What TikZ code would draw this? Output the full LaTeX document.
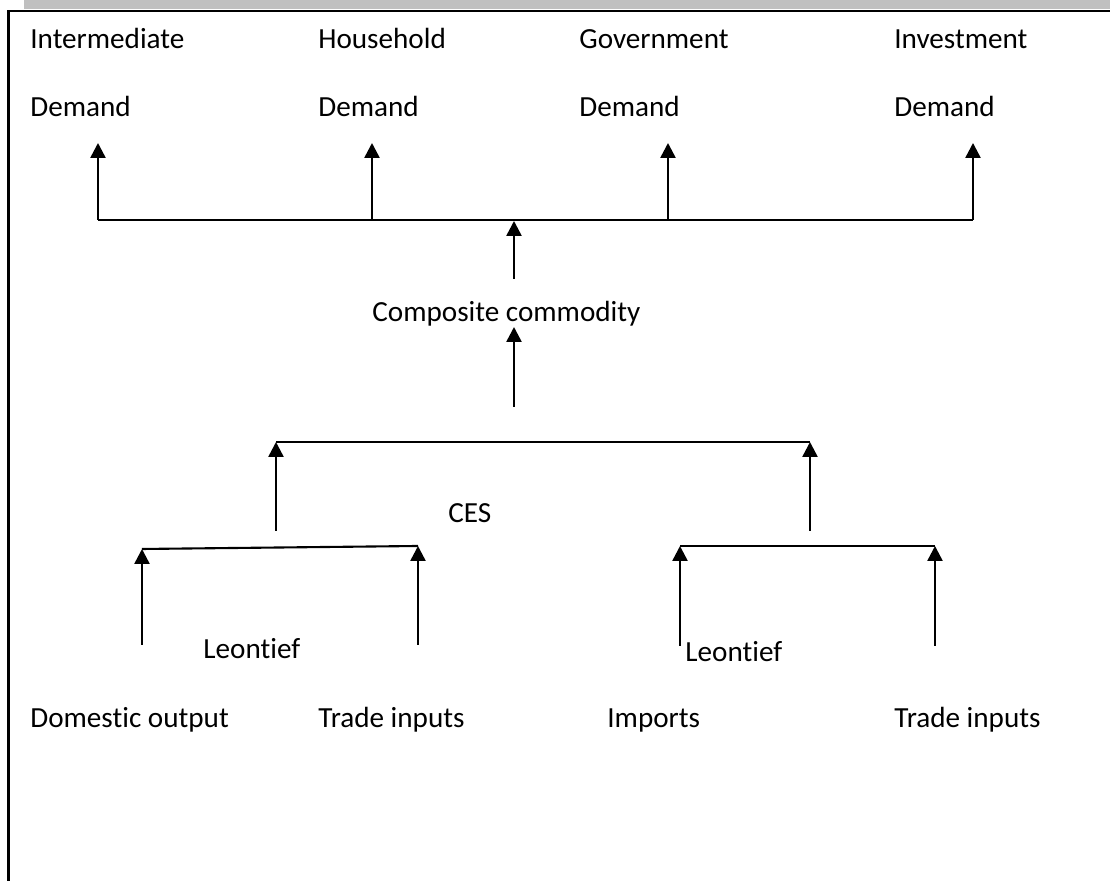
\documentclass[tikz,border=0pt]{standalone}
\usepackage{fontspec}
\setmainfont{Carlito}[Ligatures=CommonOff]
\usepackage{tikz}
\usetikzlibrary{arrows.meta}
\definecolor{framegray}{RGB}{192, 192, 192}
\tikzset{
    lbl/.style  = {anchor=base west, inner sep=0pt, font=\fontsize{16.6}{20}\selectfont},
    flow/.style = {-{Triangle[length=0.30cm, width=0.30cm]}, line width=1.4pt},
    bar/.style  = {line width=1.2pt}
}
\begin{document}
\begin{tikzpicture}
            % Frame to ensure alignment:
            \useasboundingbox                                                 ( 0.00, 0.00) rectangle (22.20,17.62);
            \fill[framegray]                                                  ( 0.48,17.44) rectangle (22.20,17.62);
            \draw[line width=1.2pt]                                           (22.20,17.40) -- ( 0.17,17.40) -- ( 0.17, 0.00);
            % Final demand
            \node[lbl] (intT) at ( 0.60,16.64) {Intermediate};
            \node[lbl] (intB) at ( 0.60,15.28) {Demand};
            \node[lbl] (hhT)  at ( 6.36,16.64) {Household};
            \node[lbl] (hhB)  at ( 6.36,15.28) {Demand};
            \node[lbl] (govT) at (11.58,16.64) {Government};
            \node[lbl] (govB) at (11.58,15.28) {Demand};
            \node[lbl] (invT) at (17.88,16.64) {Investment};
            \node[lbl] (invB) at (17.88,15.28) {Demand};
            % Composite level
            \node[lbl] (comp) at ( 7.44,11.18) {Composite commodity};
            \node[lbl] (ces)  at ( 8.96, 7.16) {CES};
            \node[lbl] (leoL) at ( 4.06, 4.44) {Leontief};
            \node[lbl] (leoR) at (13.70, 4.38) {Leontief};
            % Sources
            \node[lbl] (dom)  at ( 0.60, 3.06) {Domestic output};
            \node[lbl] (trdL) at ( 6.36, 3.06) {Trade inputs};
            \node[lbl] (imp)  at (12.14, 3.06) {Imports};
            \node[lbl] (trdR) at (17.88, 3.06) {Trade inputs};
            % Junctions & tips
            \coordinate (jInt) at ( 1.96,13.22);  \coordinate (tInt) at ( 1.96,14.76);
            \coordinate (jHh)  at ( 7.44,13.22);  \coordinate (tHh)  at ( 7.44,14.76);
            \coordinate (jGov) at (13.36,13.22);  \coordinate (tGov) at (13.36,14.76);
            \coordinate (jInv) at (19.46,13.22);  \coordinate (tInv) at (19.46,14.76);
            \coordinate (cUp)  at (10.28,13.20);  \coordinate (cLo)  at (10.28,12.04);
            \coordinate (aUp)  at (10.28,11.08);  \coordinate (aLo)  at (10.28, 9.48);
            \coordinate (cesL) at ( 5.52, 8.78);  \coordinate (cesR) at (16.20, 8.78);
            \coordinate (bL1)  at ( 2.84, 6.64);  \coordinate (bL2)  at ( 8.36, 6.70);
            \coordinate (bR1)  at (13.60, 6.70);  \coordinate (bR2)  at (18.70, 6.70);
            % Demand split
            \draw[bar]  (jInt) -- (jInv);
            \draw[flow] (jInt) -- (tInt);
            \draw[flow] (jHh)  -- (tHh);
            \draw[flow] (jGov) -- (tGov);
            \draw[flow] (jInv) -- (tInv);
            \draw[flow] (cLo)  -- (cUp);
            \draw[flow] (aLo)  -- (aUp);
            % CES nest
            \draw[bar]  (cesL) -- (cesR);
            \draw[flow] (cesL |- 0,7.00) -- (cesL);
            \draw[flow] (cesR |- 0,7.00) -- (cesR);
            % Leontief nests
            \draw[bar]  (bL1) -- (bL2);
            \draw[flow] (bL1 |- 0,4.72) -- (bL1);
            \draw[flow] (bL2 |- 0,4.72) -- (bL2);
            \draw[bar]  (bR1) -- (bR2);
            \draw[flow] (bR1 |- 0,4.70) -- (bR1);
            \draw[flow] (bR2 |- 0,4.70) -- (bR2);
\end{tikzpicture}
\end{document}
